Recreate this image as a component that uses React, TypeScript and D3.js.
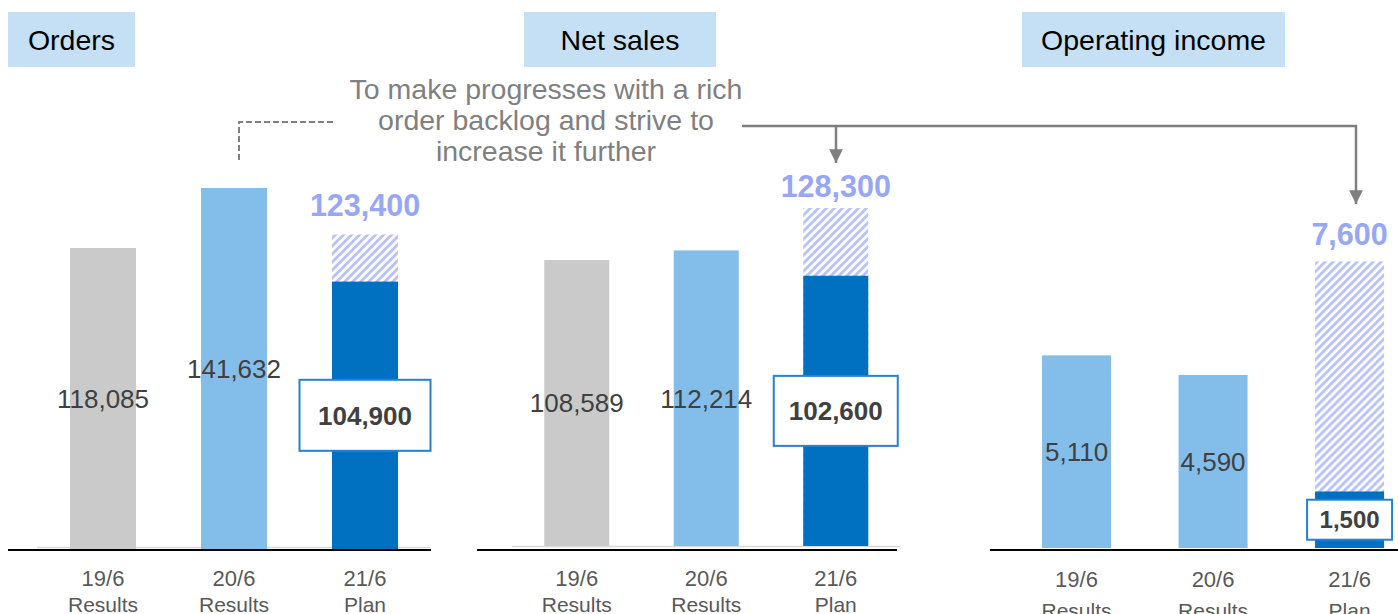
import React from "react";
import * as d3 from "d3";

// ---- data ----
const catYears = ["19/6", "20/6", "21/6"];
const catKinds = ["Results", "Results", "Plan"];
const panelTitles = ["Orders", "Net sales", "Operating income"];
const ordersValues = [118085, 141632, 104900];
const ordersTarget = 123400;
const netSalesValues = [108589, 112214, 102600];
const netSalesTarget = 128300;
const opIncomeValues = [5110, 4590, 1500];
const opIncomeTarget = 7600;
const noteLines = [
  "To make progresses with a rich",
  "order backlog and strive to",
  "increase it further",
];

// ---- styles ----
const FONT = "'Liberation Sans', Arial, Helvetica, sans-serif";
const GRAY = "#CACACA";
const LIGHT = "#83BDE9";
const DARK = "#0070C0";
const HATCH = "#B9C3F8";
const TARGET_TXT = "#98A6F6";
const TXT = "#404040";
const CAT_TXT = "#595959";
const NOTE = "#808080";

const fmt = d3.format(",");

const panels = [
  {
    title: panelTitles[0], values: ordersValues, target: ordersTarget,
    colors: [GRAY, LIGHT, DARK],
    xRange: [37.5, 430.5], padIn: 0.496, padOut: 0.248,
    yDomain: [0, 150000], base: 549, ppu: 0.002549,
    axis: [8, 431], grayLine: [37, 430], grayY: 547.5,
    box: [131, 71], boxFont: 26, targetGap: 18,
    titleBox: [8, 135], catY: [586, 611.5],
  },
  {
    title: panelTitles[1], values: netSalesValues, target: netSalesTarget,
    colors: [GRAY, LIGHT, DARK],
    xRange: [512, 900.5], padIn: 0.498, padOut: 0.249,
    yDomain: [0, 150000], base: 546, ppu: 0.002634,
    axis: [477, 897], grayLine: [512, 900], grayY: 546.5,
    box: [124, 70], boxFont: 26, targetGap: 11,
    titleBox: [524, 716], catY: [586, 611.5],
  },
  {
    title: panelTitles[2], values: opIncomeValues, target: opIncomeTarget,
    colors: [LIGHT, LIGHT, DARK],
    xRange: [1008.3, 1417.8], padIn: 0.4945, padOut: 0.247,
    yDomain: [0, 8000], base: 548, ppu: 0.0377,
    axis: [990, 1398], grayLine: null, grayY: 0,
    box: [85, 40], boxFont: 24, targetGap: 16,
    titleBox: [1022, 1285], catY: [587, 618],
  },
];

function Panel({ p, idx }: { p: any; idx: number }) {
  const x = d3.scaleBand<string>().domain(catYears).range(p.xRange as [number, number])
    .paddingInner(p.padIn).paddingOuter(p.padOut);
  const y = d3.scaleLinear().domain(p.yDomain).range([p.base, p.base - p.yDomain[1] * p.ppu]);
  const bw = x.bandwidth();
  const tb = p.titleBox;
  return (
    <g>
      <rect x={tb[0]} y={12} width={tb[1] - tb[0]} height={55} fill="#C5E0F4" />
      <text x={(tb[0] + tb[1]) / 2} y={49.5} textAnchor="middle" fontSize={28.5} fill="#000" fontFamily={FONT}>{p.title}</text>
      {p.grayLine && (
        <line x1={p.grayLine[0]} x2={p.grayLine[1]} y1={p.grayY} y2={p.grayY} stroke="#D9D9D9" strokeWidth={1.5} />
      )}
      {/* hatched target bar */}
      <rect x={x(catYears[2])} y={y(p.target)} width={bw} height={y(0) - y(p.target)} fill="url(#hatch)" />
      {p.values.map((v: number, i: number) => (
        <rect key={i} x={x(catYears[i])} y={y(v)} width={bw} height={y(0) - y(v)} fill={p.colors[i]} />
      ))}
      <line x1={p.axis[0]} x2={p.axis[1]} y1={550} y2={550} stroke="#000" strokeWidth={2} />
      {p.values.slice(0, 2).map((v: number, i: number) => (
        <text key={i} x={(x(catYears[i]) as number) + bw / 2} y={(y(v) + y(0)) / 2 + 0.358 * 26}
          textAnchor="middle" fontSize={26} fill={TXT} fontFamily={FONT}>{fmt(v)}</text>
      ))}
      {(() => {
        const v = p.values[2];
        const cx = (x(catYears[2]) as number) + bw / 2;
        const cy = (y(v) + y(0)) / 2;
        return (
          <g>
            <rect x={cx - p.box[0] / 2} y={cy - p.box[1] / 2} width={p.box[0]} height={p.box[1]}
              fill="#fff" stroke="#2581D2" strokeWidth={2} />
            <text x={cx} y={cy + 0.358 * p.boxFont} textAnchor="middle" fontSize={p.boxFont}
              fontWeight="bold" fill={TXT} fontFamily={FONT}>{fmt(v)}</text>
            <text x={cx} y={y(p.target) - p.targetGap} textAnchor="middle" fontSize={30.5}
              fontWeight="bold" fill={TARGET_TXT} fontFamily={FONT}>{fmt(p.target)}</text>
          </g>
        );
      })()}
      {catYears.map((c, i) => (
        <g key={c}>
          <text x={(x(c) as number) + bw / 2} y={p.catY[0]} textAnchor="middle" fontSize={22}
            fill={CAT_TXT} fontFamily={FONT}>{c}</text>
          <text x={(x(c) as number) + bw / 2} y={p.catY[1]} textAnchor="middle" fontSize={21}
            fill={CAT_TXT} fontFamily={FONT}>{catKinds[i]}</text>
        </g>
      ))}
    </g>
  );
}

export default function App() {
  return (
    <svg width={1398} height={614} style={{ position: "absolute", left: 0, top: 0, background: "#fff" }}>
      <defs>
        <pattern id="hatch" patternUnits="userSpaceOnUse" width={5.66} height={5.66} patternTransform="rotate(45)">
          <rect x={0} y={0} width={2.9} height={5.66} fill={HATCH} />
        </pattern>
        <marker id="arrow" viewBox="0 0 10 10" refX={10} refY={5} markerWidth={5.5} markerHeight={5.5}
          markerUnits="strokeWidth" orient="auto">
          <path d="M0,0 L10,5 L0,10 Z" fill="#7F7F7F" />
        </marker>
      </defs>
      {panels.map((p, i) => <Panel key={i} p={p} idx={i} />)}
      {/* annotation */}
      {noteLines.map((t, i) => (
        <text key={i} x={546} y={99 + i * 31} textAnchor="middle" fontSize={28.5} fill={NOTE} fontFamily={FONT}>{t}</text>
      ))}
      <path d="M333,122 H239 V163" fill="none" stroke={NOTE} strokeWidth={2} strokeDasharray="6,3" />
      <path d="M742,126 H1356 V204" fill="none" stroke="#7F7F7F" strokeWidth={2.5} markerEnd="url(#arrow)" />
      <path d="M836,126 V163" fill="none" stroke="#7F7F7F" strokeWidth={2.5} markerEnd="url(#arrow)" />
    </svg>
  );
}
